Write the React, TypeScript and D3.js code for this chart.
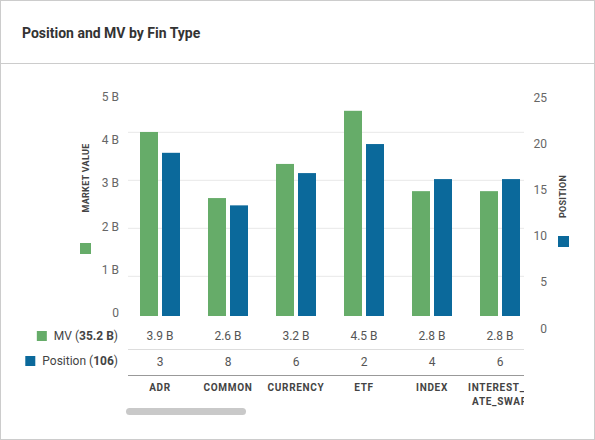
import { useEffect, useRef } from 'react'
import * as d3 from 'd3'

const categories = ['ADR', 'COMMON', 'CURRENCY', 'ETF', 'INDEX', 'INTEREST_RATE_SWAP']
// bar heights as drawn (MV in billions, position count)
const mvBars = [4.26, 2.73, 3.52, 4.75, 2.89, 2.89]
const posBars = [17.7, 12.0, 15.5, 18.65, 14.85, 14.85]
// table rows under the bars
const mvLabels = ['3.9 B', '2.6 B', '3.2 B', '4.5 B', '2.8 B', '2.8 B']
const posLabels = ['3', '8', '6', '2', '4', '6']
const leftTicks = [0, 1, 2, 3, 4, 5]
const rightTicks = [0, 5, 10, 15, 20, 25]
const gridTicks = [1, 2, 3, 4]

const GREEN = '#66ac69'
const BLUE = '#0b699b'
const FONT = 'Roboto, "Noto Sans", sans-serif'

export default function App() {
  const svgRef = useRef<SVGSVGElement>(null)

  useEffect(() => {
    document.body.style.margin = '0'
    if (!svgRef.current) return
    const svg = d3.select(svgRef.current)
    svg.selectAll('*').remove()

    const width = 595
    const height = 440
    svg.attr('width', width).attr('height', height).style('font-family', FONT)

    // card
    svg.append('rect')
      .attr('x', 0.5).attr('y', 0.5)
      .attr('width', width - 1).attr('height', height - 1)
      .attr('fill', '#fff').attr('stroke', '#cccccc')
    svg.append('line')
      .attr('x1', 0).attr('x2', width)
      .attr('y1', 63.5).attr('y2', 63.5)
      .attr('stroke', '#cccccc')
    svg.append('text')
      .attr('x', 22).attr('y', 37.5)
      .style('font-size', '14px').style('font-weight', 'bold')
      .style('fill', '#333')
      .text('Position and MV by Fin Type')

    const x = d3.scaleBand().domain(categories).range([126, 534])
    const sub = d3.scaleBand().domain(['mv', 'pos']).range([14, 54]).paddingInner(4 / 22)
    const yMv = d3.scaleLinear().domain([0, 5]).range([316, 100])
    const yPos = d3.scaleLinear().domain([0, 25]).range([316, 85.5])
    const yLeft = d3.scaleLinear().domain([0, 5]).range([312.7, 96.7])
    const yRight = d3.scaleLinear().domain([0, 25]).range([328.3, 98])
    const yGrid = d3.scaleLinear().domain([0, 4]).range([324.3, 132.3])

    // left axis labels
    svg.append('g').selectAll('text')
      .data(leftTicks).enter().append('text')
      .attr('x', 119).attr('y', d => yLeft(d))
      .attr('dy', '0.35em').attr('text-anchor', 'end')
      .style('font-size', '12px').style('fill', '#666')
      .text(d => (d === 0 ? '0' : `${d} B`))

    // right axis labels
    svg.append('g').selectAll('text')
      .data(rightTicks).enter().append('text')
      .attr('x', 547).attr('y', d => yRight(d))
      .attr('dy', '0.35em').attr('text-anchor', 'end')
      .style('font-size', '12px').style('fill', '#666')
      .text(d => d)

    // axis titles with swatches
    svg.append('text')
      .attr('transform', 'translate(88.5,178) rotate(-90)')
      .attr('text-anchor', 'middle')
      .style('font-size', '9px').style('font-weight', 'bold')
      .style('letter-spacing', '0.3px').style('fill', '#444')
      .text('MARKET VALUE')
    svg.append('rect')
      .attr('x', 80).attr('y', 243).attr('width', 11).attr('height', 11)
      .attr('fill', GREEN)
    svg.append('text')
      .attr('transform', 'translate(566,196.5) rotate(-90)')
      .attr('text-anchor', 'middle')
      .style('font-size', '9px').style('font-weight', 'bold')
      .style('letter-spacing', '0.3px').style('fill', '#444')
      .text('POSITION')
    svg.append('rect')
      .attr('x', 558).attr('y', 236).attr('width', 11).attr('height', 11)
      .attr('fill', BLUE)

    // scrolling plot area
    svg.append('clipPath').attr('id', 'plotClip')
      .append('rect').attr('x', 126).attr('y', 64).attr('width', 398).attr('height', 350)
    const plot = svg.append('g').attr('clip-path', 'url(#plotClip)')

    plot.append('g').selectAll('line')
      .data(gridTicks).enter().append('line')
      .attr('x1', 128).attr('x2', 524)
      .attr('y1', d => yGrid(d)).attr('y2', d => yGrid(d))
      .attr('stroke', '#e8e8e8').attr('stroke-width', 1)

    const groups = plot.selectAll('.grp')
      .data(categories).enter().append('g')
      .attr('class', 'grp')
      .attr('transform', d => `translate(${x(d)},0)`)

    groups.append('rect')
      .attr('x', sub('mv')!)
      .attr('width', sub.bandwidth())
      .attr('y', (d, i) => yMv(mvBars[i]))
      .attr('height', (d, i) => yMv(0) - yMv(mvBars[i]))
      .attr('fill', GREEN)

    groups.append('rect')
      .attr('x', sub('pos')!)
      .attr('width', sub.bandwidth())
      .attr('y', (d, i) => yPos(posBars[i]))
      .attr('height', (d, i) => yPos(0) - yPos(posBars[i]))
      .attr('fill', BLUE)

    const cx = x.bandwidth() / 2
    groups.append('text')
      .attr('x', cx).attr('y', 336).attr('dy', '0.35em')
      .attr('text-anchor', 'middle')
      .style('font-size', '12px').style('fill', '#555')
      .text((d, i) => mvLabels[i])
    groups.append('text')
      .attr('x', cx).attr('y', 362).attr('dy', '0.35em')
      .attr('text-anchor', 'middle')
      .style('font-size', '12px').style('fill', '#555')
      .text((d, i) => posLabels[i])

    // category labels, long names wrap
    groups.each(function (d) {
      const lines = d.length > 12 ? [d.slice(0, 10), d.slice(10)] : [d]
      const t = d3.select(this).append('text')
        .attr('text-anchor', 'middle')
        .style('font-size', '10px').style('font-weight', 'bold')
        .style('letter-spacing', '0.7px').style('fill', '#444')
      lines.forEach((ln, k) => {
        t.append('tspan').attr('x', cx).attr('y', 390.5 + k * 14).text(ln)
      })
    })

    plot.append('line')
      .attr('x1', 128).attr('x2', 524).attr('y1', 349.5).attr('y2', 349.5)
      .attr('stroke', '#dddddd')
    plot.append('line')
      .attr('x1', 128).attr('x2', 524).attr('y1', 375.5).attr('y2', 375.5)
      .attr('stroke', '#999999')

    // row legend
    const legend = [
      { color: GREEN, name: 'MV', total: '35.2 B', y: 336 },
      { color: BLUE, name: 'Position', total: '106', y: 361 }
    ]
    legend.forEach(l => {
      const t = svg.append('text')
        .attr('x', 118).attr('y', l.y).attr('dy', '0.35em')
        .attr('text-anchor', 'end')
        .style('font-size', '12px').style('fill', '#444')
      t.append('tspan').text(`${l.name} (`)
      t.append('tspan').style('font-weight', 'bold').text(l.total)
      t.append('tspan').text(')')
      const w = (t.node() as SVGTextElement).getComputedTextLength()
      svg.append('rect')
        .attr('x', 118 - w - 17).attr('y', l.y - 5).attr('width', 10).attr('height', 10)
        .attr('fill', l.color)
    })

    // horizontal scrollbar
    svg.append('rect')
      .attr('x', 126).attr('y', 408).attr('width', 120).attr('height', 7)
      .attr('rx', 3.5).attr('fill', '#c9c9c9')
  }, [])

  return <svg ref={svgRef}></svg>
}
